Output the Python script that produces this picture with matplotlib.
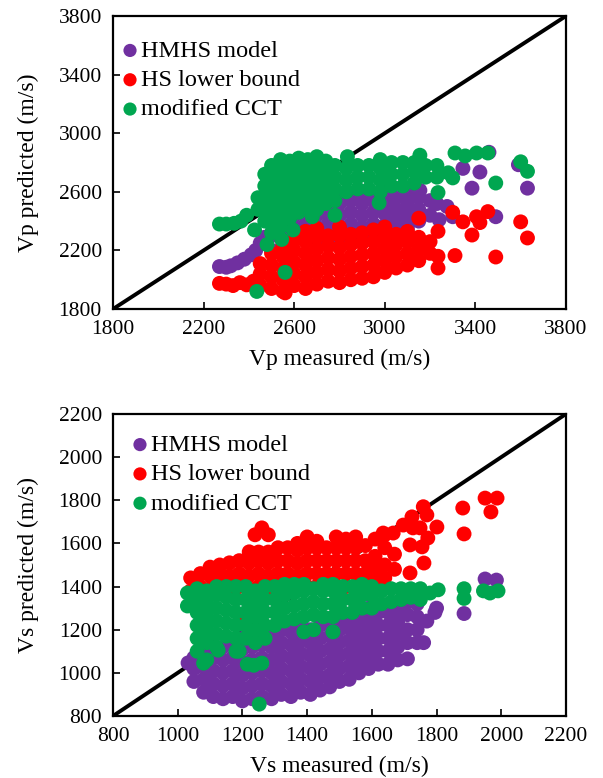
import matplotlib
matplotlib.use("Agg")
import matplotlib.pyplot as plt
import numpy as np

plt.rcParams["font.family"] = ["Liberation Serif", "DejaVu Serif"]

PURPLE = "#7030A0"
RED = "#FF0000"
GREEN = "#00A650"

LABELS = ["HMHS model", "HS lower bound", "modified CCT"]

# ---- Vp panel: (measured, predicted) in m/s ----
VP_HMHS = [
    (2270, 2090), (2300, 2085), (2320, 2095), (2350, 2115), (2380, 2140), (2410, 2170),
    (2430, 2200), (2450, 2250), (2470, 2290),
    (2500, 2200), (2500, 2300), (2500, 2380),
    (2550, 2250), (2550, 2330), (2550, 2420),
    (2600, 2280), (2600, 2360), (2600, 2440), (2600, 2500),
    (2650, 2300), (2650, 2380), (2650, 2460), (2650, 2530),
    (2700, 2280), (2700, 2360), (2700, 2440), (2700, 2520), (2700, 2570),
    (2750, 2300), (2750, 2380), (2750, 2450), (2750, 2530),
    (2800, 2280), (2800, 2360), (2800, 2440), (2800, 2520), (2800, 2580),
    (2850, 2300), (2850, 2380), (2850, 2460), (2850, 2540),
    (2900, 2280), (2900, 2360), (2900, 2440), (2900, 2520), (2900, 2590),
    (2950, 2300), (2950, 2380), (2950, 2460), (2950, 2540),
    (3000, 2290), (3000, 2370), (3000, 2450), (3000, 2530), (3000, 2600),
    (3050, 2320), (3050, 2400), (3050, 2480), (3050, 2560),
    (3100, 2350), (3100, 2430), (3100, 2510), (3100, 2590),
    (3150, 2400), (3150, 2480), (3150, 2560), (3155, 2610),
    (3200, 2440), (3200, 2540), (3230, 2520), (3275, 2500), (3240, 2410), (3300, 2430),
    (3345, 2760), (3420, 2735), (3385, 2625), (3460, 2870), (3490, 2430),
    (3590, 2785), (3630, 2625),
]

VP_HS = [
    (2270, 1975), (2300, 1970), (2330, 1960), (2360, 1980), (2390, 1965), (2420, 1990),
    (2450, 1960), (2450, 2040), (2450, 2110),
    (2500, 1940), (2500, 2020), (2500, 2100), (2500, 2180),
    (2550, 1920), (2550, 2000), (2550, 2080), (2550, 2160), (2550, 2230),
    (2600, 1960), (2600, 2040), (2600, 2120), (2600, 2200), (2600, 2270),
    (2650, 1940), (2650, 2020), (2650, 2100), (2650, 2180), (2650, 2260), (2650, 2330),
    (2700, 1970), (2700, 2050), (2700, 2130), (2700, 2210), (2700, 2290), (2700, 2350),
    (2750, 1990), (2750, 2070), (2750, 2150), (2750, 2230), (2750, 2300),
    (2800, 1980), (2800, 2060), (2800, 2140), (2800, 2220), (2800, 2300), (2800, 2360),
    (2850, 2000), (2850, 2080), (2850, 2160), (2850, 2240), (2850, 2310),
    (2900, 2010), (2900, 2090), (2900, 2170), (2900, 2250), (2900, 2320),
    (2950, 2020), (2950, 2100), (2950, 2180), (2950, 2260), (2950, 2340),
    (3000, 2050), (3000, 2130), (3000, 2210), (3000, 2290), (3000, 2360),
    (3050, 2080), (3050, 2160), (3050, 2240), (3050, 2310),
    (3100, 2100), (3100, 2180), (3100, 2260), (3100, 2330),
    (3150, 2130), (3150, 2210), (3150, 2290), (3150, 2420),
    (3200, 2180), (3200, 2260),
    (3235, 2330), (3235, 2160), (3235, 2080), (3300, 2460), (3310, 2165), (3345, 2395),
    (3385, 2305), (3405, 2430), (3420, 2390), (3455, 2465), (3490, 2155), (3600, 2395),
    (3630, 2285), (2560, 1910),
]

VP_CCT = [
    (2270, 2380), (2300, 2380), (2335, 2385), (2365, 2400), (2390, 2440),
    (2440, 2480), (2440, 2560),
    (2470, 2400), (2470, 2480), (2470, 2560), (2470, 2640), (2470, 2720),
    (2500, 2320), (2500, 2400), (2500, 2480), (2500, 2560), (2500, 2640), (2500, 2720), (2500, 2780),
    (2540, 2360), (2540, 2440), (2540, 2520), (2540, 2600), (2540, 2680), (2540, 2760), (2540, 2820),
    (2580, 2420), (2580, 2500), (2580, 2580), (2580, 2660), (2580, 2740), (2580, 2810),
    (2620, 2460), (2620, 2540), (2620, 2620), (2620, 2700), (2620, 2780), (2620, 2830),
    (2660, 2500), (2660, 2580), (2660, 2660), (2660, 2740), (2660, 2820),
    (2700, 2480), (2700, 2560), (2700, 2640), (2700, 2720), (2700, 2800), (2700, 2840),
    (2740, 2520), (2740, 2600), (2740, 2680), (2740, 2760), (2740, 2810),
    (2780, 2540), (2780, 2620), (2780, 2700), (2780, 2780),
    (2830, 2600), (2830, 2680), (2830, 2760),
    (2880, 2620), (2880, 2700), (2880, 2780),
    (2930, 2620), (2930, 2700), (2930, 2780),
    (2980, 2600), (2980, 2680), (2980, 2760), (2980, 2820),
    (3030, 2640), (3030, 2720), (3030, 2800),
    (3080, 2640), (3080, 2720), (3080, 2800),
    (3130, 2660), (3130, 2740), (3130, 2800),
    (3180, 2700), (3180, 2780), (3230, 2700), (3230, 2780), (3280, 2730),
    (2435, 1920), (2560, 2050), (2480, 2240), (2545, 2275), (2425, 2340), (2595, 2340),
    (2680, 2430), (2780, 2440), (2975, 2525), (3235, 2595), (3490, 2660), (3300, 2695),
    (3155, 2850), (3310, 2865), (3355, 2845), (3405, 2865), (3455, 2865),
    (3600, 2805), (3630, 2740), (2835, 2840),
]

# ---- Vs panel: (measured, predicted) in m/s ----
VS_HMHS = [
    (1032, 1046), (1050, 960), (1050, 1020), (1050, 1070),
    (1080, 910), (1080, 970), (1080, 1030), (1080, 1080),
    (1110, 890), (1110, 950), (1110, 1010), (1110, 1070), (1110, 1120),
    (1140, 880), (1140, 940), (1140, 1000), (1140, 1060), (1140, 1120),
    (1170, 890), (1170, 950), (1170, 1010), (1170, 1070), (1170, 1130),
    (1200, 870), (1200, 930), (1200, 990), (1200, 1050), (1200, 1110), (1200, 1160),
    (1230, 880), (1230, 940), (1230, 1000), (1230, 1060), (1230, 1120), (1230, 1180),
    (1260, 890), (1260, 950), (1260, 1010), (1260, 1070), (1260, 1130), (1260, 1190),
    (1290, 880), (1290, 940), (1290, 1000), (1290, 1060), (1290, 1120), (1290, 1180),
    (1320, 900), (1320, 960), (1320, 1020), (1320, 1080), (1320, 1140), (1320, 1200),
    (1350, 890), (1350, 950), (1350, 1010), (1350, 1070), (1350, 1130), (1350, 1190),
    (1380, 910), (1380, 970), (1380, 1030), (1380, 1090), (1380, 1150), (1380, 1210),
    (1410, 900), (1410, 960), (1410, 1020), (1410, 1080), (1410, 1140), (1410, 1200),
    (1440, 920), (1440, 980), (1440, 1040), (1440, 1100), (1440, 1160), (1440, 1220),
    (1470, 935), (1470, 990), (1470, 1050), (1470, 1110), (1470, 1170), (1470, 1230),
    (1500, 960), (1500, 1020), (1500, 1080), (1500, 1140), (1500, 1200), (1500, 1250),
    (1530, 970), (1530, 1030), (1530, 1090), (1530, 1150), (1530, 1210), (1530, 1260),
    (1560, 1000), (1560, 1060), (1560, 1120), (1560, 1180), (1560, 1240),
    (1590, 1020), (1590, 1080), (1590, 1140), (1590, 1200), (1590, 1260), (1590, 1300),
    (1620, 1040), (1620, 1100), (1620, 1160), (1620, 1220), (1620, 1280),
    (1650, 1040), (1650, 1100), (1650, 1160), (1650, 1220), (1650, 1280), (1650, 1310),
    (1680, 1060), (1680, 1120), (1680, 1180), (1680, 1240), (1680, 1290),
    (1710, 1065), (1710, 1140), (1710, 1200), (1710, 1270), (1710, 1330),
    (1740, 1140), (1740, 1200), (1740, 1260), (1740, 1320),
    (1760, 1140), (1770, 1240), (1795, 1280), (1800, 1300), (1885, 1275),
    (1950, 1435), (1985, 1430),
]

VS_HS = [
    (1040, 1380), (1040, 1440), (1070, 1400), (1070, 1460),
    (1100, 1390), (1100, 1450), (1100, 1490),
    (1130, 1400), (1130, 1460), (1130, 1500),
    (1160, 1390), (1160, 1450), (1160, 1510),
    (1190, 1400), (1190, 1460), (1190, 1520),
    (1220, 1390), (1220, 1450), (1220, 1510), (1220, 1540),
    (1250, 1400), (1250, 1460), (1250, 1520), (1250, 1560),
    (1280, 1390), (1280, 1450), (1280, 1510), (1280, 1560),
    (1310, 1400), (1310, 1460), (1310, 1520), (1310, 1580),
    (1340, 1400), (1340, 1460), (1340, 1520), (1340, 1580),
    (1370, 1390), (1370, 1450), (1370, 1510), (1370, 1570), (1370, 1600),
    (1400, 1400), (1400, 1460), (1400, 1520), (1400, 1580), (1400, 1630),
    (1430, 1400), (1430, 1460), (1430, 1520), (1430, 1580), (1430, 1610),
    (1460, 1400), (1460, 1460), (1460, 1520), (1460, 1580),
    (1490, 1400), (1490, 1460), (1490, 1520), (1490, 1580), (1490, 1630),
    (1520, 1400), (1520, 1460), (1520, 1520), (1520, 1580), (1520, 1620),
    (1550, 1400), (1550, 1460), (1550, 1520), (1550, 1580), (1550, 1630),
    (1580, 1400), (1580, 1460), (1580, 1520), (1580, 1590),
    (1610, 1420), (1610, 1480), (1610, 1540), (1610, 1620),
    (1640, 1440), (1640, 1500), (1640, 1580), (1640, 1640),
    (1670, 1480), (1670, 1550),
    (1260, 1672), (1239, 1640), (1280, 1640), (1221, 1561),
    (1950, 1810), (1987, 1810), (1968, 1746), (1881, 1764), (1885, 1644),
    (1759, 1770), (1770, 1732), (1801, 1676), (1724, 1723), (1697, 1685),
    (1727, 1672), (1749, 1672), (1773, 1625), (1755, 1584), (1718, 1593),
    (1761, 1509), (1718, 1463), (1666, 1648), (1635, 1648),
    (1205, 1235), (1230, 1240),
]

VS_CCT = [
    (1030, 1310), (1030, 1370),
    (1060, 1100), (1060, 1160), (1060, 1220), (1060, 1280), (1060, 1340), (1060, 1390),
    (1090, 1060), (1090, 1140), (1090, 1200), (1090, 1260), (1090, 1320), (1090, 1380),
    (1120, 1120), (1120, 1180), (1120, 1240), (1120, 1300), (1120, 1360), (1120, 1400),
    (1150, 1170), (1150, 1230), (1150, 1290), (1150, 1350), (1150, 1400),
    (1180, 1100), (1180, 1160), (1180, 1220), (1180, 1280), (1180, 1340), (1180, 1400),
    (1210, 1160), (1210, 1220), (1210, 1280), (1210, 1340), (1210, 1400),
    (1240, 1140), (1240, 1200), (1240, 1260), (1240, 1320), (1240, 1380),
    (1270, 1160), (1270, 1220), (1270, 1280), (1270, 1340), (1270, 1400),
    (1300, 1220), (1300, 1280), (1300, 1340), (1300, 1400),
    (1330, 1240), (1330, 1300), (1330, 1360), (1330, 1410),
    (1360, 1250), (1360, 1310), (1360, 1370), (1360, 1410),
    (1390, 1190), (1390, 1260), (1390, 1320), (1390, 1380), (1390, 1410),
    (1420, 1200), (1420, 1270), (1420, 1330), (1420, 1390),
    (1450, 1260), (1450, 1320), (1450, 1380), (1450, 1410),
    (1480, 1190), (1480, 1260), (1480, 1320), (1480, 1380), (1480, 1410),
    (1510, 1280), (1510, 1340), (1510, 1400),
    (1540, 1280), (1540, 1340), (1540, 1400),
    (1570, 1300), (1570, 1360), (1570, 1410),
    (1600, 1300), (1600, 1360), (1600, 1400),
    (1630, 1320), (1630, 1380), (1660, 1330), (1660, 1390),
    (1690, 1340), (1690, 1390), (1720, 1350), (1720, 1390),
    (1750, 1340), (1750, 1390), (1780, 1370), (1805, 1385),
    (1080, 1045), (1215, 1040), (1235, 1035), (1260, 1045), (1252, 855),
    (1125, 1105), (1190, 1100),
    (1885, 1390), (1885, 1345), (1945, 1380), (1965, 1370), (1990, 1380),
]


def draw_panel(ax, series, lim, ticks, xlabel, ylabel, legend_anchor):
    ax.plot(lim, lim, color="black", lw=2.8, zorder=1)
    for pts, color, label in zip(series, [PURPLE, RED, GREEN], LABELS):
        x, y = np.array(pts).T
        ax.scatter(x, y, s=115, color=color, edgecolors="none", label=label, zorder=2)
    ax.set_xlim(lim)
    ax.set_ylim(lim)
    ax.set_xticks(ticks)
    ax.set_yticks(ticks)
    ax.tick_params(direction="in", length=5, width=1.2, labelsize=15.5,
                   top=False, right=False, pad=8)
    for sp in ax.spines.values():
        sp.set_linewidth(1.6)
    ax.set_xlabel(xlabel, fontsize=17, labelpad=7)
    ax.set_ylabel(ylabel, fontsize=17, labelpad=14)
    leg = ax.legend(loc="upper left", bbox_to_anchor=legend_anchor, frameon=False,
                    fontsize=17.5, scatterpoints=1, handlelength=0.6, handletextpad=0.15,
                    labelspacing=0.30, borderaxespad=0)
    for h in leg.legend_handles:
        h.set_sizes([90])


fig = plt.figure(figsize=(6.03, 7.78), dpi=100)
ax1 = fig.add_axes([0.1874, 0.6028, 0.7512, 0.3766])
ax2 = fig.add_axes([0.1874, 0.0797, 0.7512, 0.3882])

draw_panel(ax1, [VP_HMHS, VP_HS, VP_CCT], (1800, 3800),
           [1800, 2200, 2600, 3000, 3400, 3800],
           "Vp measured (m/s)", "Vp predicted (m/s)", (0.0, 0.952))
draw_panel(ax2, [VS_HMHS, VS_HS, VS_CCT], (800, 2200),
           [800, 1000, 1200, 1400, 1600, 1800, 2000, 2200],
           "Vs measured (m/s)", "Vs predicted (m/s)", (0.022, 0.966))

fig.savefig("out.png", dpi=100)
